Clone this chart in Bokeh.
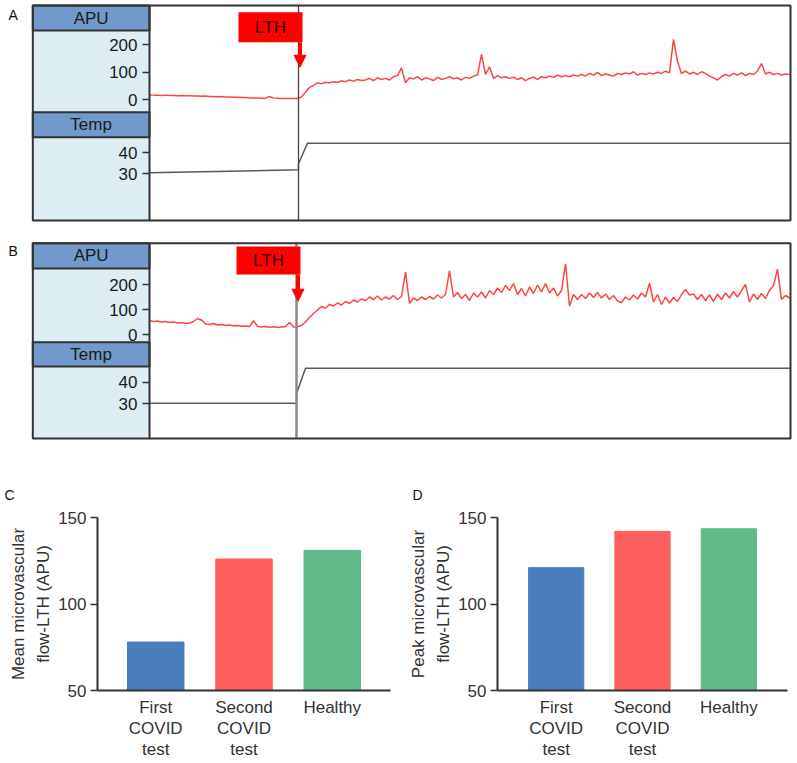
from bokeh.plotting import figure
from bokeh.models import (Range1d, LinearAxis, FixedTicker, Span, BoxAnnotation,
                          Label, Arrow, NormalHead, FactorRange, ColumnDataSource)
from bokeh.layouts import column, row
from bokeh.embed import file_html
from bokeh.resources import INLINE

FONT = "Liberation Sans"

# ---------------- data ----------------
# Laser-Doppler traces, one sample every 4 units of time (trace width 640)
APU_A = [18, 17, 17, 16, 17, 16, 16, 15, 16, 15, 15, 14, 14, 13, 14, 12, 12, 11, 12, 10,
         10, 9, 9, 8, 8, 7, 7, 7, 6, 6, 12, 7, 6, 5, 5, 5, 5, 5,
         10, 28, 45, 52, 62, 58, 64, 62, 66, 63, 69, 66, 72, 68, 74, 70,
         72, 78, 70, 80, 74, 78, 72, 84, 88, 116,
         62, 80, 76, 84, 72, 80, 76, 70, 82, 74,
         78, 84, 76, 80, 72, 82, 78, 86, 90, 165,
         92, 120, 78, 88, 80, 84, 78, 82, 74, 80,
         70, 78, 82, 74, 84, 80, 86, 82, 90, 84,
         88, 84, 90, 86,
         92, 86, 96, 90, 100, 88, 94, 90, 86, 96,
         92, 98, 94, 102, 90, 96, 92, 98, 94, 100,
         96, 104, 98, 220, 140, 96, 104, 94, 100, 92,
         102, 96, 86, 80, 72, 84, 92, 86, 96, 90,
         98, 88, 96, 92, 104, 132, 94, 100, 92, 96,
         90, 94, 92]
APU_B = [55, 52, 54, 50, 52, 48, 50, 46, 48, 44, 46, 52, 64, 58, 42, 40, 44, 38, 40, 36,
         38, 35, 36, 33, 34, 32, 55, 33, 30, 32, 29, 31, 28, 30, 32, 48, 30, 31,
         36, 50, 68, 84, 98, 112, 106, 120, 114, 126, 118, 132, 124, 138, 130, 142,
         136, 150, 140, 154, 138, 150, 142, 156, 140, 152,
         250, 124, 146, 136, 150, 140, 152, 142, 158, 146,
         160, 255, 150, 168, 144, 160, 136, 166, 150, 170,
         146, 176, 160, 186, 168, 196, 176, 204, 160, 184,
         154, 190, 164, 198, 170, 204, 166, 186, 154, 176,
         283, 114, 160, 140,
         160, 144, 166, 148, 168, 146, 162, 140, 156, 134,
         128, 150, 138, 158, 142, 166, 150, 205, 130, 160,
         120, 150, 126, 148, 132, 160, 180, 158, 162, 140,
         160, 136, 158, 132, 162, 140, 166, 146, 172, 150,
         176, 200, 130, 162, 140, 164, 144, 176, 196, 261,
         140, 156, 146]
TEMP_T_A = [0, 149, 149, 158, 641]
TEMP_A = [30.5, 31.9, 34.8, 44.6, 44.6]
TEMP_T_B = [0, 147, 147, 156, 641]
TEMP_B = [30.3, 30.3, 34.6, 46.5, 46.5]
LTH_A = 149
LTH_B = 147
APU_TICKS = [0, 100, 200]
TEMP_TICKS = [30, 40]

CATS = ["First\nCOVID\ntest", "Second\nCOVID\ntest", "Healthy"]
MEAN_FLOW = [78, 126, 131]
PEAK_FLOW = [121, 142, 143.5]
BAR_TICKS = [50, 100, 150]

# ---------------- styles / layout (page pixels) ----------------
SAMPLE_STEP = 4
X0 = 149            # page x of the trace origin
SIDEBAR = 116.7
TRACE_W = 641
PAGE_W = 795
SIDE_BG = "#dcedf4"
HDR_BG = "#7199cb"
EDGE = "#333333"
TRACE_RED = "#ff3030"
BAR_COLORS = ["#4a7dbb", "#ff5e5e", "#61ba8a"]
ROW_TOP = 506

LAY_A = dict(top=0, bottom=241, box=(5, 220), zero=99.3, k=0.275, t30=173.3, kt=2.1,
             apu_hdr=(5, 30), temp_hdr=(111.7, 136.7), lth_box=(11.7, 41.7), tip=66.7,
             lth_w=1.3, lth_c="#444444", letters=[("A", 8, 6)])
LAY_B = dict(top=241, bottom=ROW_TOP, box=(242.7, 438), zero=334, k=0.25, t30=403.3, kt=2.16,
             apu_hdr=(242.7, 268), temp_hdr=(341.7, 366), lth_box=(246, 274), tip=300.7,
             lth_w=2.5, lth_c="#8a8a8a",
             letters=[("B", 8, 242), ("C", 4, 486), ("D", 412, 486)])


def trace_fig(apu_vals, t_temp, temp_vals, lth, L):
    k, z, kt, t30 = L["k"], L["zero"], L["kt"], L["t30"]

    def ya(py):  # page y -> APU units
        return (z - py) / k

    def yt(py):  # page y -> temperature units
        return 30 + (t30 - py) / kt

    p = figure(width=PAGE_W, height=L["bottom"] - L["top"],
               x_range=Range1d(-X0, PAGE_W - X0),
               y_range=Range1d(ya(L["bottom"]), ya(L["top"])),
               x_axis_type=None, output_backend="svg", toolbar_location=None,
               min_border_left=0, min_border_right=0, min_border_top=0,
               min_border_bottom=0)
    p.extra_y_ranges = {"temp": Range1d(yt(L["bottom"]), yt(L["top"]))}
    p.ygrid.visible = False
    p.outline_line_color = None
    btop, bbot = L["box"]

    # sidebar
    p.add_layout(BoxAnnotation(left=-SIDEBAR, right=0, top=ya(btop), bottom=ya(bbot),
                               fill_color=SIDE_BG, fill_alpha=1, line_color=None,
                               level="underlay"))
    for (top, bot), name in ((L["apu_hdr"], "APU"), (L["temp_hdr"], "Temp")):
        p.add_layout(BoxAnnotation(left=-SIDEBAR, right=0, top=ya(top), bottom=ya(bot),
                                   fill_color=HDR_BG, fill_alpha=1, line_color=EDGE,
                                   line_alpha=1, line_width=2, level="underlay"))
        p.add_layout(Label(x=-SIDEBAR / 2, y=ya((top + bot) / 2), text=name,
                           text_align="center", text_baseline="middle",
                           text_font=FONT, text_font_size="17px", text_color="#1a1a1a"))

    ax = p.yaxis[0]
    ax.ticker = FixedTicker(ticks=APU_TICKS)
    ax.bounds = (ya(bbot), ya(btop))
    temp_ax = LinearAxis(y_range_name="temp", ticker=FixedTicker(ticks=TEMP_TICKS))
    p.add_layout(temp_ax, "left")
    for a in (ax, temp_ax):
        a.fixed_location = 0
        a.axis_line_color = EDGE
        a.axis_line_width = 2
        a.major_tick_line_color = EDGE
        a.major_tick_line_width = 1.5
        a.major_tick_out = 7
        a.major_tick_in = 0
        a.minor_tick_line_color = None
        a.major_label_standoff = 5
        a.major_label_text_font = FONT
        a.major_label_text_font_size = "17px"
        a.major_label_text_color = "#1a1a1a"
    temp_ax.axis_line_color = None

    # traces
    t = list(range(0, SAMPLE_STEP * len(apu_vals), SAMPLE_STEP))
    p.line(t, apu_vals, line_color=TRACE_RED, line_width=1.5, line_alpha=0.9)
    p.line(t_temp, temp_vals, y_range_name="temp", line_color="#5a5a5a", line_width=1.5)

    # LTH marker
    p.add_layout(Span(location=lth, dimension="height", line_color=L["lth_c"],
                      line_width=L["lth_w"]))
    # mask the span outside the box
    for lo, hi in ((L["top"], btop), (bbot, L["bottom"])):
        p.add_layout(BoxAnnotation(left=lth - 5, right=lth + 5, top=ya(lo), bottom=ya(hi),
                                   fill_color="white", fill_alpha=1, line_color=None))
    ltop, lbot = L["lth_box"]
    p.add_layout(BoxAnnotation(left=lth - 60, right=lth + 4, top=ya(ltop), bottom=ya(lbot),
                               fill_color="#ff0000", fill_alpha=1, line_color=None))
    p.add_layout(Label(x=lth - 28, y=ya((ltop + lbot) / 2), text="LTH",
                       text_align="center", text_baseline="middle", text_font=FONT,
                       text_font_size="17px", text_color="#2a0000"))
    p.add_layout(Arrow(end=NormalHead(size=12, fill_color="#ff0000", line_color="#ff0000"),
                       x_start=lth + 1.5, x_end=lth + 1.5, y_start=ya(lbot),
                       y_end=ya(L["tip"]), line_color="#ff0000", line_width=4))

    # outer box
    p.add_layout(BoxAnnotation(left=-SIDEBAR, right=TRACE_W, top=ya(btop), bottom=ya(bbot),
                               fill_color=None, fill_alpha=0, line_color=EDGE,
                               line_alpha=1, line_width=2))

    for letter, px, py in L["letters"]:
        p.add_layout(Label(x=px - X0, y=ya(py), text=letter, text_baseline="top",
                           text_font=FONT, text_font_size="14px", text_color="#111111"))
    return p


def bar_fig(vals, ylabel, mb_left, frame_w, mb_right, pad):
    src = ColumnDataSource(dict(cat=CATS, val=vals, col=BAR_COLORS))
    p = figure(width=mb_left + frame_w + mb_right, height=762 - ROW_TOP,
               x_range=FactorRange(factors=CATS, range_padding=pad,
                                   range_padding_units="absolute"),
               y_range=Range1d(BAR_TICKS[0], BAR_TICKS[-1]),
               output_backend="svg", toolbar_location=None,
               min_border_left=mb_left, min_border_right=mb_right,
               min_border_top=517 - ROW_TOP, min_border_bottom=69)
    p.vbar(x="cat", top="val", bottom=BAR_TICKS[0], width=0.64, fill_color="col",
           line_color="col", source=src)
    p.outline_line_color = None
    p.xgrid.visible = False
    p.ygrid.visible = False
    p.yaxis.ticker = FixedTicker(ticks=BAR_TICKS)
    p.yaxis.axis_label = ylabel
    p.yaxis.axis_label_text_font = FONT
    p.yaxis.axis_label_text_font_size = "17px"
    p.yaxis.axis_label_text_font_style = "normal"
    p.yaxis.axis_label_text_color = "#333333"
    p.yaxis.axis_label_text_line_height = 1.3
    p.yaxis.axis_label_standoff = 2
    for a in (p.xaxis[0], p.yaxis[0]):
        a.axis_line_color = EDGE
        a.axis_line_width = 2
        a.major_tick_line_color = EDGE
        a.major_tick_line_width = 1.5
        a.minor_tick_line_color = None
        a.major_label_text_font = FONT
        a.major_label_text_font_size = "17px"
        a.major_label_text_color = "#333333"
    p.yaxis.major_tick_out = 7
    p.yaxis.major_tick_in = 0
    p.yaxis.major_label_standoff = 4
    p.xaxis.major_tick_out = 0
    p.xaxis.major_tick_in = 0
    p.xaxis.major_label_standoff = 7
    p.xaxis.major_label_text_line_height = 1.13
    return p


pA = trace_fig(APU_A, TEMP_T_A, TEMP_A, LTH_A, LAY_A)
pB = trace_fig(APU_B, TEMP_T_B, TEMP_B, LTH_B, LAY_B)
pC = bar_fig(MEAN_FLOW, "Mean microvascular\nflow-LTH (APU)", 97, 293, 10, 0.16)
pD = bar_fig(PEAK_FLOW, "Peak microvascular\nflow-LTH (APU)", 97, 290, 8, 0.18)

layout = column(pA, pB, row(pC, pD))
open("out.html", "w").write(file_html(layout, INLINE))
